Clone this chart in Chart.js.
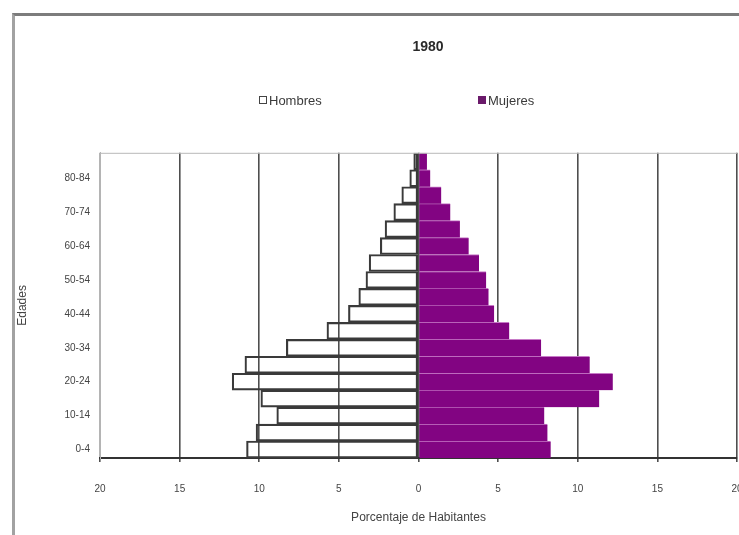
<!DOCTYPE html>
<html>
<head>
<meta charset="utf-8">
<script src="https://cdn.jsdelivr.net/npm/chart.js@4.4.1/dist/chart.umd.min.js"></script>
<style>
  html, body { margin: 0; padding: 0; background: #fff; overflow: hidden; }
  #wrap { position: relative; width: 739px; height: 535px; overflow: hidden; background: #fff; }
  #frame { position: absolute; left: 12px; top: 13px; width: 900px; height: 700px;
           border-top: 3px solid #7c7c7c; border-left: 3px solid #a2a2a2; }
  #c { position: absolute; left: 0; top: 0; }
  .leg { position: absolute; top: 92px; height: 16px; display: flex; align-items: center;
         font: 13px Arial, "Liberation Sans", sans-serif; color: #3a3a3a; white-space: nowrap; }
  .sw { width: 8px; height: 8px; margin-right: 2px; box-sizing: border-box; }
</style>
</head>
<body>
<div id="wrap">
  <div id="frame"></div>
  <!-- the chart sheet is wider than the visible window; its right part is cut off -->
  <canvas id="c" width="856" height="535"></canvas>
  <div id="legend"></div>
</div>
<script>
// Population by five-year age group, percent of each sex (youngest first)
const ageGroups = ['0-4', '5-9', '10-14', '15-19', '20-24', '25-29', '30-34', '35-39', '40-44',
                   '45-49', '50-54', '55-59', '60-64', '65-69', '70-74', '75-79', '80-84', '85-89'];
const hombres = [10.8, 10.2, 8.9, 9.9, 11.7, 10.9, 8.3, 5.75, 4.4,
                 3.75, 3.3, 3.1, 2.4, 2.1, 1.55, 1.05, 0.55, 0.3];
const mujeres = [8.3, 8.1, 7.9, 11.35, 12.2, 10.75, 7.7, 5.7, 4.75,
                 4.4, 4.25, 3.8, 3.15, 2.6, 2.0, 1.43, 0.74, 0.53];
const seriesNames = ['Hombres', 'Mujeres'];
const chartTitle = '1980';
const xAxisTitle = 'Porcentaje de Habitantes';
const yAxisTitle = 'Edades';
const xRange = [-20, 20];
const xStep = 5;

const FONT = 'Arial, "Liberation Sans", sans-serif';
const seriesStyle = [
  { fill: 'rgba(255,255,255,0)', swatch: '#ffffff', border: '#3a3a3a' },
  { fill: '#820482', swatch: '#6a1a6a', border: '#c77ac7' }
];

// light frame line along the top of the plot area
const plotTopLine = {
  id: 'plotTopLine',
  afterDraw(chart) {
    const { ctx, chartArea: a } = chart;
    ctx.save();
    ctx.strokeStyle = '#b8b8b8';
    ctx.lineWidth = 1;
    ctx.beginPath();
    ctx.moveTo(a.left, a.top + 0.5);
    ctx.lineTo(a.right, a.top + 0.5);
    ctx.stroke();
    ctx.restore();
  }
};

const chart = new Chart(document.getElementById('c'), {
  type: 'bar',
  data: {
    labels: ageGroups,
    datasets: [
      {
        label: seriesNames[0],
        data: hombres.map(v => -v),
        backgroundColor: seriesStyle[0].fill,
        borderColor: seriesStyle[0].border,
        borderWidth: 1.5,
        borderSkipped: false,
        categoryPercentage: 1,
        barPercentage: 1
      },
      {
        label: seriesNames[1],
        data: mujeres,
        backgroundColor: seriesStyle[1].fill,
        borderColor: seriesStyle[1].border,
        borderWidth: { top: 1, bottom: 0, left: 0, right: 0 },
        borderSkipped: false,
        categoryPercentage: 1,
        barPercentage: 1
      }
    ]
  },
  options: {
    indexAxis: 'y',
    responsive: false,
    animation: false,
    layout: { padding: 0 },
    plugins: {
      legend: { display: false },
      tooltip: { enabled: false },
      title: {
        display: true,
        text: chartTitle,
        color: '#2a2a2a',
        font: { family: FONT, size: 14, weight: 'bold' },
        padding: { top: 39, bottom: 97 }
      }
    },
    scales: {
      x: {
        type: 'linear',
        stacked: true,
        min: xRange[0],
        max: xRange[1],
        afterFit(scale) {
          scale.height = 77;
          scale.paddingLeft = 0;
          scale.paddingRight = 0;
        },
        ticks: {
          stepSize: xStep,
          padding: 21,
          color: '#444',
          font: { family: FONT, size: 10 },
          maxRotation: 0,
          callback: v => String(Math.abs(v))
        },
        grid: {
          color: c => (c.tick && c.tick.value === xRange[0]) ? '#b4b4b4' : '#4e4e4e',
          lineWidth: 1.6,
          drawTicks: true,
          tickLength: 4,
          tickColor: '#4e4e4e'
        },
        border: { display: true, color: '#333', width: 2 },
        title: {
          display: true,
          text: xAxisTitle,
          color: '#444',
          font: { family: FONT, size: 12 },
          padding: { top: 0, bottom: 10 }
        }
      },
      y: {
        type: 'category',
        stacked: true,
        reverse: true,
        afterFit(scale) {
          scale.width = 100;
          scale.paddingTop = 0;
          scale.paddingBottom = 0;
        },
        ticks: {
          autoSkip: false,
          padding: 10,
          color: '#444',
          font: { family: FONT, size: 10 },
          callback: (v, i) => (i % 2 === 0 ? ageGroups[i] : '')
        },
        grid: { display: false, drawTicks: false },
        border: { display: true, color: '#b4b4b4', width: 1 },
        title: {
          display: true,
          text: yAxisTitle,
          color: '#444',
          font: { family: FONT, size: 12 },
          padding: { top: 15, bottom: 0 }
        }
      },
      // empty strip on the right of the plot (the sheet's right margin)
      yRight: {
        type: 'category',
        position: 'right',
        display: true,
        afterFit(scale) {
          scale.width = 119;
          scale.paddingTop = 0;
          scale.paddingBottom = 0;
        },
        ticks: { display: false },
        grid: { display: false, drawTicks: false },
        border: { display: false }
      }
    }
  },
  plugins: [plotTopLine]
});

// legend entries built from the dataset names
const legendLeft = [259, 478];
const legendEl = document.getElementById('legend');
chart.data.datasets.forEach((ds, i) => {
  const item = document.createElement('div');
  item.className = 'leg';
  item.style.left = legendLeft[i] + 'px';
  const sw = document.createElement('span');
  sw.className = 'sw';
  sw.style.background = seriesStyle[i].swatch;
  sw.style.border = i === 0 ? '1px solid #444' : '1px solid ' + seriesStyle[i].swatch;
  const tx = document.createElement('span');
  tx.textContent = ds.label;
  item.appendChild(sw);
  item.appendChild(tx);
  legendEl.appendChild(item);
});
</script>
</body>
</html>
